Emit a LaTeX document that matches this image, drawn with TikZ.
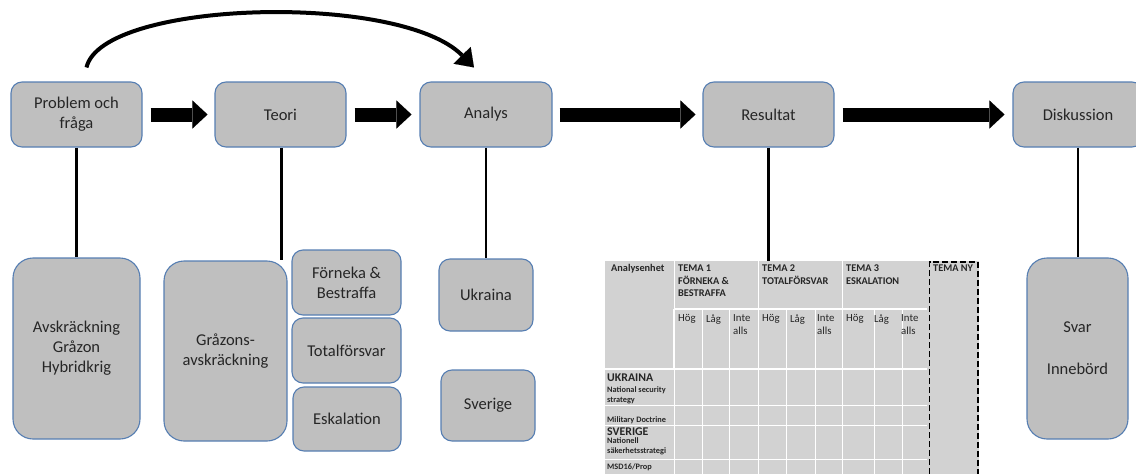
\documentclass[tikz,border=0pt]{standalone}
\usepackage{fontspec}
\setmainfont{Carlito}
\usetikzlibrary{arrows.meta}
\definecolor{boxfill}{RGB}{191,191,191}
\definecolor{boxline}{RGB}{86,126,178}
\definecolor{tabfill}{RGB}{210,210,210}
\definecolor{txt}{RGB}{38,38,38}
\tikzset{
  box/.style={draw=boxline, fill=boxfill, line width=1.1pt, rounded corners=11pt, align=center, text=txt, font=\fontsize{16.5}{20}\selectfont, inner sep=2pt},
  bigbox/.style={box, rounded corners=20pt},
  blockarrow/.style={line width=14pt, -{Triangle[length=15pt,width=28pt,line width=0.01pt]}},
  curvearrow/.style={line width=4pt, -{Triangle[length=17pt,width=24pt,line width=0.01pt]}},
  vline/.style={line width=2.6pt, black},
  gridthin/.style={white, line width=0.9pt},
  gridthick/.style={white, line width=1.8pt},
  thead/.style={anchor=north west, inner sep=0pt, align=left, text=txt, font=\bfseries\fontsize{10.3}{12.5}\selectfont},
  tcell/.style={anchor=north west, inner sep=0pt, align=left, text=txt, font=\fontsize{10.8}{13.3}\selectfont},
  tsmall/.style={anchor=north west, inner sep=0pt, align=left, text=txt, font=\bfseries\fontsize{8.3}{9.6}\selectfont},
  tbig/.style={anchor=north west, inner sep=0pt, text=txt, font=\bfseries\fontsize{11.8}{13}\selectfont},
  newcol/.style={black, line width=1.6pt, dash pattern=on 6pt off 3pt},
}
\begin{document}
\begin{tikzpicture}[x=1pt,y=-1pt]
\useasboundingbox (0,0) rectangle (1136,474);
\clip (0,0) rectangle (1136,474);

% top row
\node[box, minimum width=131pt, minimum height=65pt] (prob) at (76.5,114.5) {Problem och\\fråga};
\node[box, minimum width=131pt, minimum height=65pt] (teori) at (280.5,114.5) {Teori};
\node[box, minimum width=132pt, minimum height=65pt] (analys) at (486,114.5) {Analys};
\node[box, minimum width=131pt, minimum height=65pt] (result) at (768.5,114.5) {Resultat};
\node[box, minimum width=130pt, minimum height=65pt] (disk) at (1078,114.5) {Diskussion};

% block arrows
\draw[blockarrow] ([xshift=8pt]prob.east) -- ([xshift=-7pt]teori.west);
\draw[blockarrow] ([xshift=8pt]teori.east) -- ([xshift=-8pt]analys.west);
\draw[blockarrow] ([xshift=7pt]analys.east) -- ([xshift=-7pt]result.west);
\draw[blockarrow] ([xshift=8pt]result.east) -- ([xshift=-8pt]disk.west);

% curved arrow
\coordinate (cs) at ([xshift=10pt,yshift=14pt]prob.north);
\coordinate (ce) at ([xshift=-12pt,yshift=14pt]analys.north);
\draw[curvearrow] (cs) .. controls (102,0) and (400,-8) .. (ce);

% bottom boxes
\node[bigbox, minimum width=127pt, minimum height=181pt] (avsk) at (76.5,348.5) {Avskräckning\\Gråzon\\Hybridkrig};
\node[bigbox, minimum width=123pt, minimum height=180pt] (graz) at (225.5,351) {Gråzons-\\avskräckning};
\node[box, minimum width=109pt, minimum height=65pt] (forn) at (346.5,282.5) {Förneka \&\\Bestraffa};
\node[box, minimum width=109pt, minimum height=65pt] (total) at (346.5,350.5) {Totalförsvar};
\node[box, minimum width=108pt, minimum height=64pt] (eskal) at (347,419) {Eskalation};
\node[box, minimum width=94pt, minimum height=72pt] (ukr) at (486,295) {Ukraina};
\node[box, minimum width=94pt, minimum height=71pt] (sve) at (488,405.5) {Sverige};
\node[bigbox, minimum width=101pt, minimum height=181pt] (svar) at (1077.5,348.5) {Svar\\[22pt]Innebörd};

% table background
\fill[tabfill] (605,261) rectangle (979,474);
\coordinate (tabtop) at (768.5,261);

% vertical connectors
\draw[vline] (prob.south) -- (avsk.north);
\draw[vline] ([xshift=1pt]teori.south) -- ([xshift=1pt]teori.south |- graz.north);
\draw[vline] (analys.south) -- (ukr.north);
\draw[vline] (result.south) -- (tabtop);
\draw[vline] (disk.south) -- (disk.south |- svar.north);

% table grid
\draw[gridthin] (674,261) -- (674,309) (758,261) -- (758,309) (842,261) -- (842,309);
\foreach \x in {702,729,758,786,815,842,874,902}
  \draw[gridthin] (\x,309) -- (\x,369);
\foreach \x in {674,702,729,758,786,815,842,874,902}
  \draw[gridthin] (\x,369) -- (\x,474);
\foreach \y in {405,425,459}
  \draw[gridthin] (605,\y) -- (927,\y);
\draw[gridthick] (674,309) -- (927,309);
\draw[gridthick] (674,309) -- (674,369);
\draw[gridthick] (605,369) -- (927,369);
\draw[newcol] (929.5,474) -- (929.5,261.8) -- (978,261.8) -- (978,474);

% table text
\node[thead] (th0) at (611,264.5) {Analysenhet};
\node[thead] (th1) at (678,265) {TEMA 1\\FÖRNEKA \&\\BESTRAFFA};
\node[thead] (th2) at (762,265) {TEMA 2\\TOTALFÖRSVAR};
\node[thead] (th3) at (846,265) {TEMA 3\\ESKALATION};
\node[thead] (th4) at (933,265) {TEMA NY};
\foreach \c [count=\i] in {674,758,842}{
  \node[tcell] (hog\i) at (\c+4,314.5) {Hög};
  \node[tcell] (lag\i) at (\c+32,314.5) {Låg};
  \node[tcell] (inte\i) at (\c+59,314.5) {Inte\\alls};
}
\node[tbig] (ukrT) at (607,373.5) {UKRAINA};
\node[tsmall] (ukrS) at (607,386.5) {National security\\strategy};
\node[tsmall] (mild) at (607,416) {Military Doctrine};
\node[tbig] (sveT) at (607,427.5) {SVERIGE};
\node[tsmall] (sveS) at (607,437.8) {Nationell\\säkerhetsstrategi};
\node[tsmall] (msd) at (607,463.3) {MSD16/Prop};
\end{tikzpicture}
\end{document}
